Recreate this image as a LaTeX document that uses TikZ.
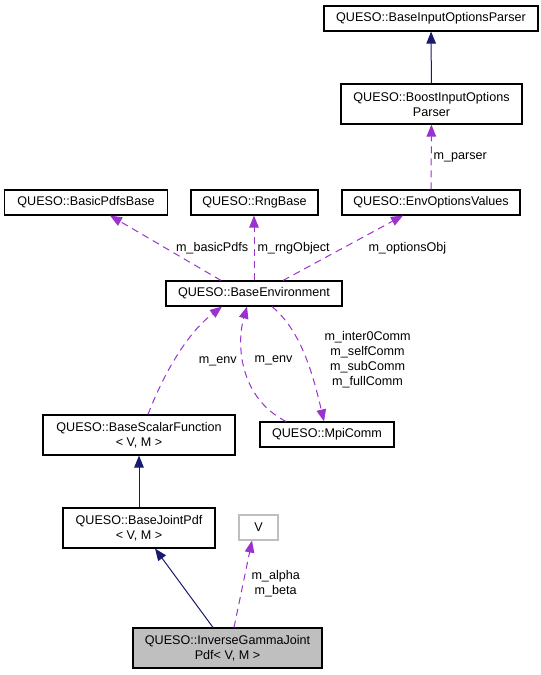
\documentclass[tikz,border=0pt]{standalone}
\usepackage{fontspec}
\setmainfont{Liberation Sans}
\usetikzlibrary{arrows.meta}
\definecolor{inhcol}{HTML}{191970}
\definecolor{usecol}{HTML}{9A32CD}
\definecolor{boxgray}{HTML}{BFBFBF}
\tikzset{
  cls/.style={draw, line width=1.1pt, inner sep=0pt, minimum height=25pt, align=center,
    font=\fontsize{12.6}{15}\selectfont},
  inherit/.style={line width=1pt, inhcol, -{Triangle[length=12pt,width=9.5pt]}},
  uses/.style={line width=1pt, usecol, dash pattern=on 7pt off 5pt, -{Triangle[length=12pt,width=9.5pt]}},
  lbl/.style={text=black, inner sep=0pt, align=center, font=\fontsize{12.6}{15}\selectfont}
}

\begin{document}
\begin{tikzpicture}[x=1pt,y=-1pt]
      \useasboundingbox (0,0) rectangle (541,675);
      \node [cls, minimum width=214pt] (inparser) at (431,18.5) {QUESO::BaseInputOptionsParser};
      \node [cls, minimum width=181pt, minimum height=40pt] (boost) at (431.5,104) {QUESO::BoostInputOptions\\Parser};
      \node [cls, minimum width=163pt] (basic) at (86,202.5) {QUESO::BasicPdfsBase};
      \node [cls, minimum width=127pt] (rng) at (254.5,202.5) {QUESO::RngBase};
      \node [cls, minimum width=178pt] (envopt) at (431,202.5) {QUESO::EnvOptionsValues};
      \node [cls, minimum width=176pt] (env) at (254,293.5) {QUESO::BaseEnvironment};
      \node [cls, minimum width=192pt, minimum height=40pt] (scalar) at (139,435) {QUESO::BaseScalarFunction\\< V, M >};
      \node [cls, minimum width=134pt] (mpi) at (327,434.5) {QUESO::MpiComm};
      \node [cls, minimum width=152pt, minimum height=40pt] (joint) at (139,528) {QUESO::BaseJointPdf\\< V, M >};
      \node [cls, draw=boxgray, minimum width=39pt] (V) at (258.5,527.5) {V};
      \node [cls, fill=boxgray, minimum width=189pt, minimum height=40pt] (invgamma) at (227.5,648) {QUESO::InverseGammaJoint\\Pdf< V, M >};

      \draw [inherit] (boost) -- (inparser);
      \draw [uses] (envopt) -- node [lbl, right, xshift=2pt] {m\_parser} (boost);
      \draw [uses] ([xshift=-33pt]env.north) -- node [lbl, right, xshift=10pt] {m\_basicPdfs} ([xshift=24pt]basic.south);
      \draw [uses] (env.north) -- node [lbl, right, xshift=3pt] {m\_rngObject} ([xshift=-0.5pt]rng.south);
      \draw [uses] ([xshift=29pt]env.north) -- node [lbl, right, xshift=25pt] {m\_optionsObj} ([xshift=-28pt]envopt.south);
      \draw [uses] ([xshift=9pt]scalar.north) .. controls (162,378) and (185,335) .. node [lbl, right, xshift=22pt, yshift=-4pt] {m\_env} ([xshift=-32pt]env.south);
      \draw [uses] ([xshift=-41pt]mpi.north) .. controls (240,398) and (236,345) .. node [lbl, right, xshift=9pt, yshift=9pt] {m\_env} ([xshift=-7pt]env.south);
      \draw [uses] ([xshift=18pt]env.south) .. controls (300,330) and (312,370) .. node [lbl, right, xshift=20pt, yshift=-6pt] {m\_inter0Comm\\m\_selfComm\\m\_subComm\\m\_fullComm} ([xshift=-3pt]mpi.north);
      \draw [inherit] (joint) -- (scalar);
      \draw [inherit] ([xshift=-14.5pt]invgamma.north) -- ([xshift=16pt]joint.south);
      \draw [uses] ([xshift=6.5pt]invgamma.north) -- node [lbl, right, xshift=8pt] {m\_alpha\\m\_beta} ([xshift=-6.5pt]V.south);
    \end{tikzpicture}
\end{document}
